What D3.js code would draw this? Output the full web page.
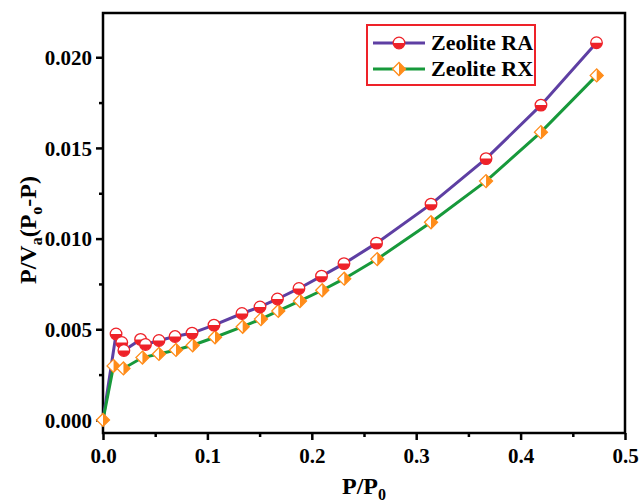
<!DOCTYPE html>
<html><head><meta charset="utf-8">
<script src="https://cdn.jsdelivr.net/npm/d3@7"></script>
<style>
html,body{margin:0;padding:0;background:#fff;}
svg{display:block;font-family:"Liberation Serif","Times New Roman",serif;font-weight:bold;}
</style></head>
<body>
<svg id="chart" width="641" height="502"></svg>
<script>
// ---- data ----
const raX = [0, 0.0125, 0.018, 0.020, 0.036, 0.0407, 0.0536, 0.069, 0.0853, 0.1063, 0.1331, 0.1504, 0.1671, 0.1877, 0.2093, 0.2308, 0.262, 0.3142, 0.3669, 0.4195, 0.4727];
const raY = [0, 0.00474, 0.00427, 0.00383, 0.00444, 0.00416, 0.00438, 0.0046, 0.00479, 0.00523, 0.00587, 0.00623, 0.00667, 0.00725, 0.00793, 0.00862, 0.00975, 0.0119, 0.01441, 0.01736, 0.0208];
const rxX = [0, 0.0101, 0.0196, 0.0378, 0.0536, 0.0699, 0.0859, 0.1073, 0.1338, 0.1513, 0.1679, 0.1887, 0.21, 0.2311, 0.2627, 0.3142, 0.3669, 0.4195, 0.4729];
const rxY = [0, 0.00298, 0.00284, 0.00344, 0.00364, 0.00386, 0.00412, 0.00456, 0.00514, 0.00556, 0.00601, 0.00656, 0.00715, 0.00779, 0.00887, 0.0109, 0.01317, 0.01587, 0.0190];
const xTicks = [0, 0.1, 0.2, 0.3, 0.4, 0.5];
const xTickLabels = ["0.0", "0.1", "0.2", "0.3", "0.4", "0.5"];
const yTicks = [0, 0.005, 0.010, 0.015, 0.020];
const yTickLabels = ["0.000", "0.005", "0.010", "0.015", "0.020"];
const seriesNames = ["Zeolite RA", "Zeolite RX"];

const svg = d3.select("#chart");
const x = d3.scaleLinear().domain([0, 0.5]).range([103, 625]);
const y = d3.scaleLinear().domain([-0.00072, 0.02244]).range([433, 13]);

const purple = "#5e3fa3", green = "#17993b", red = "#ee2229", orange = "#ff8c1a";

// frame
svg.append("rect").attr("x", x(0)).attr("y", y(0.02244)).attr("width", x(0.5) - x(0)).attr("height", y(-0.00072) - y(0.02244))
  .attr("fill", "none").attr("stroke", "#000").attr("stroke-width", 2.5);

// x axis
const xAxis = svg.append("g").attr("transform", `translate(0,${y(-0.00072)})`)
  .call(d3.axisBottom(x).tickValues(xTicks).tickFormat((d, i) => xTickLabels[i]).tickSize(7).tickSizeOuter(0));
const xMinor = svg.append("g").attr("transform", `translate(0,${y(-0.00072)})`)
  .call(d3.axisBottom(x).tickValues([0.05, 0.15, 0.25, 0.35, 0.45]).tickFormat("").tickSize(4).tickSizeOuter(0));
// y axis
const yAxis = svg.append("g").attr("transform", `translate(${x(0)},0)`)
  .call(d3.axisLeft(y).tickValues(yTicks).tickFormat((d, i) => yTickLabels[i]).tickSize(7).tickSizeOuter(0));
const yMinor = svg.append("g").attr("transform", `translate(${x(0)},0)`)
  .call(d3.axisLeft(y).tickValues([0.0025, 0.0075, 0.0125, 0.0175]).tickFormat("").tickSize(4).tickSizeOuter(0));
[xAxis, xMinor, yAxis, yMinor].forEach(g => {
  g.select(".domain").remove();
  g.selectAll("line").attr("stroke", "#000").attr("stroke-width", 2.5);
  g.selectAll("text").attr("fill", "#000").style("font-family", '"Liberation Serif",serif').style("font-weight", "bold").style("font-size", "21px");
});
xAxis.selectAll("text").attr("dy", "0.71em").attr("y", 15);
yAxis.selectAll("text").attr("x", -11).attr("dy", "0.34em");

// axis titles
const xt = svg.append("text").attr("x", 364).attr("y", 494).attr("text-anchor", "middle").style("font-size", "24px");
xt.append("tspan").text("P/P");
xt.append("tspan").text("0").attr("dy", 6).style("font-size", "16px");

const yt = svg.append("text").attr("transform", "translate(36,230) rotate(-90)").attr("text-anchor", "middle").style("font-size", "24px");
yt.append("tspan").text("P/V");
yt.append("tspan").text("a").attr("dy", 6).style("font-size", "16px");
yt.append("tspan").text("(P").attr("dy", -6);
yt.append("tspan").text("o").attr("dy", 6).style("font-size", "16px");
yt.append("tspan").text("-P)").attr("dy", -6);

// lines
const raData = raX.map((v, i) => [v, raY[i]]);
const rxData = rxX.map((v, i) => [v, rxY[i]]);
const line = d3.line().x(d => x(d[0])).y(d => y(d[1]));
svg.append("path").datum(raData).attr("d", line).attr("fill", "none").attr("stroke", purple).attr("stroke-width", 3);
svg.append("path").datum(rxData).attr("d", line).attr("fill", "none").attr("stroke", green).attr("stroke-width", 3);

// markers
function circleMarker(g, r) {
  g.append("circle").attr("r", r).attr("fill", "#fff").attr("stroke", red).attr("stroke-width", 1.3);
  g.append("path").attr("d", `M${-r},0 A${r},${r} 0 0 0 ${r},0 Z`).attr("fill", red);
}
function diamondMarker(g, s) {
  g.append("path").attr("d", `M0,${-s} L${s},0 L0,${s} L${-s},0 Z`).attr("fill", "#fff").attr("stroke", orange).attr("stroke-width", 1.3);
  g.append("path").attr("d", `M0,${-s} L${s},0 L0,${s} Z`).attr("fill", orange);
}
svg.append("g").selectAll("g").data(rxData).join("g")
  .attr("transform", d => `translate(${x(d[0])},${y(d[1])})`).each(function () { diamondMarker(d3.select(this), 6.5); });
svg.append("g").selectAll("g").data(raData.slice(1)).join("g")
  .attr("transform", d => `translate(${x(d[0])},${y(d[1])})`).each(function () { circleMarker(d3.select(this), 5.8); });

// legend
const lg = svg.append("g");
lg.append("rect").attr("x", 367).attr("y", 25).attr("width", 168).attr("height", 60).attr("fill", "#fff").attr("stroke", red).attr("stroke-width", 2);
const rows = [{c: purple, m: circleMarker, s: 5.8, yy: 43}, {c: green, m: diamondMarker, s: 6.5, yy: 69}];
rows.forEach((r, i) => {
  lg.append("line").attr("x1", 373).attr("x2", 425).attr("y1", r.yy).attr("y2", r.yy).attr("stroke", r.c).attr("stroke-width", 3);
  r.m(lg.append("g").attr("transform", `translate(399,${r.yy})`), r.s);
  lg.append("text").attr("x", 431).attr("y", r.yy + 7).style("font-size", "22px").text(seriesNames[i]);
});
</script>
</body></html>
